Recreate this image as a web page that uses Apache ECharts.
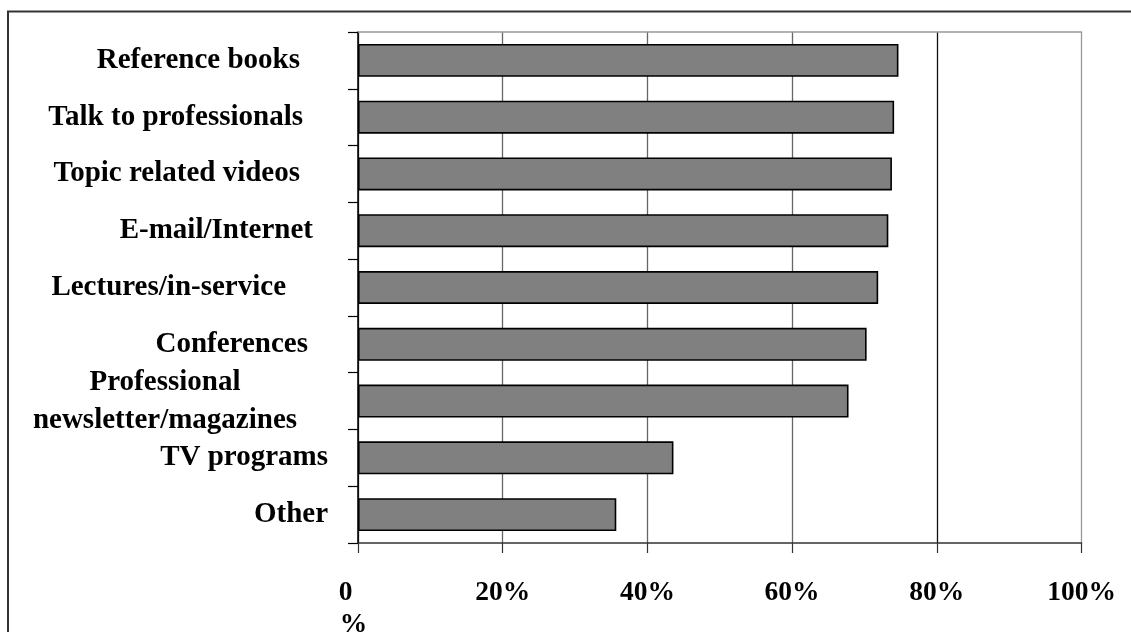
<!DOCTYPE html>
<html>
<head>
<meta charset="utf-8">
<title>Information sources</title>
<script src="https://cdn.jsdelivr.net/npm/echarts@6/dist/echarts.min.js"></script>
<style>
  html, body { margin: 0; padding: 0; background: #fff; }
  #chart { width: 1131px; height: 632px; }
</style>
</head>
<body>
<div id="chart"></div>
<script>
// Sources of information, share of respondents (%)
const categories = [
  'Reference books',
  'Talk to professionals',
  'Topic related videos',
  'E-mail/Internet',
  'Lectures/in-service',
  'Conferences',
  'Professional\nnewsletter/magazines',
  'TV programs',
  'Other'
];
const values = [74.7, 74.1, 73.8, 73.3, 71.9, 70.3, 67.8, 43.6, 35.7];
const tickValues = [0, 20, 40, 60, 80, 100];

// extra right-hand spacing for each category label (ragged label layout)
const labelShift = [28, 25, 28, 15, 42, 20, 30, 0, 0];

const FONT = '"Liberation Serif", "Times New Roman", serif';

const rich = {};
labelShift.forEach(function (s, i) {
  rich['c' + i] = {
    fontFamily: FONT, fontWeight: 'bold', fontSize: 29, color: '#000',
    lineHeight: 38, padding: [0, s, 0, 0]
  };
});
rich.c6.width = 266;
rich.c6.align = 'center';

const chart = echarts.init(document.getElementById('chart'), null, { renderer: 'canvas' });

chart.setOption({
  animation: false,
  backgroundColor: '#fff',
  grid: { left: 358, right: 49.5, top: 32, bottom: 89, containLabel: false, outerBoundsMode: 'none' },
  graphic: [{
    type: 'rect',
    shape: { x: 8, y: 11.5, width: 1300, height: 800 },
    style: { fill: 'none', stroke: '#333', lineWidth: 2 },
    silent: true
  }],
  xAxis: [{
    type: 'value',
    position: 'bottom',
    min: tickValues[0], max: tickValues[tickValues.length - 1], interval: 20,
    axisLine: { show: true, lineStyle: { color: '#333', width: 1.5 } },
    axisTick: { show: true, inside: false, length: 10, lineStyle: { color: '#333', width: 1.2 } },
    splitLine: {
      show: true,
      lineStyle: { color: ['#333', '#666', '#666', '#666', '#111', '#999'], width: 1.3 }
    },
    axisLabel: {
      margin: 34,
      fontFamily: FONT, fontWeight: 'bold', fontSize: 27.5, color: '#000',
      lineHeight: 32,
      formatter: function (v) {
        return v === 0 ? '{z0|0}\n{z1|%}' : v + '%';
      },
      rich: {
        z0: { fontFamily: FONT, fontWeight: 'bold', fontSize: 27.5, color: '#000', lineHeight: 32, padding: [0, 25, 0, 0] },
        z1: { fontFamily: FONT, fontWeight: 'bold', fontSize: 27.5, color: '#000', lineHeight: 32, padding: [0, 9, 0, 0] }
      }
    }
  }, {
    type: 'value',
    position: 'top',
    min: tickValues[0], max: tickValues[tickValues.length - 1], interval: 20,
    axisLine: { show: true, lineStyle: { color: '#999', width: 1.5 } },
    axisTick: { show: false },
    axisLabel: { show: false },
    splitLine: { show: false }
  }],
  yAxis: {
    type: 'category',
    inverse: true,
    data: categories,
    boundaryGap: true,
    axisLine: { show: true, lineStyle: { color: '#000', width: 1.5 } },
    axisTick: { show: true, inside: false, length: 10, lineStyle: { color: '#000', width: 1.2 } },
    splitLine: { show: false },
    axisLabel: {
      margin: 30,
      formatter: function (v, i) {
        return v.split('\n').map(function (line) { return '{c' + i + '|' + line + '}'; }).join('\n');
      },
      rich: rich
    }
  },
  series: [{
    type: 'bar',
    xAxisIndex: 0,
    data: values,
    barCategoryGap: '42%',
    itemStyle: { color: '#808080', borderColor: '#000', borderWidth: 1.6 },
    silent: true
  }]
});
</script>
</body>
</html>
